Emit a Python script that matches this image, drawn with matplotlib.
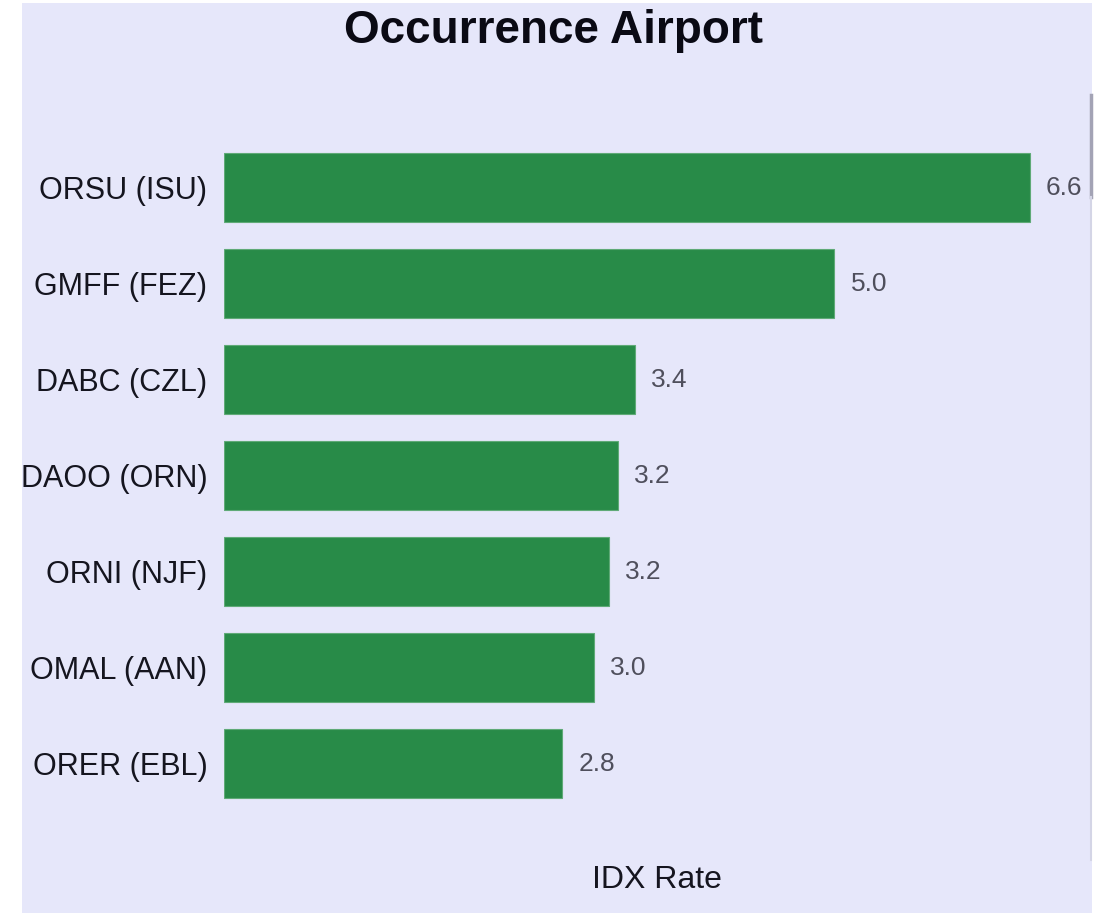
import matplotlib.pyplot as plt
from matplotlib.patches import Rectangle
from matplotlib.lines import Line2D

# data
airports = ["ORSU (ISU)", "GMFF (FEZ)", "DABC (CZL)", "DAOO (ORN)",
            "ORNI (NJF)", "OMAL (AAN)", "ORER (EBL)"]
idx_rate = [6.6, 5.0, 3.37, 3.23, 3.152, 3.03, 2.77]

plt.rcParams['font.family'] = ['Liberation Sans', 'DejaVu Sans']

W, H = 1098, 913
fig = plt.figure(figsize=(W / 100, H / 100), dpi=100, facecolor='white')

# lavender panel behind everything (white strip on the left like the screenshot)
fig.patches.append(Rectangle((22 / W, 0), (1092 - 22) / W, (H - 3) / H,
                             transform=fig.transFigure, facecolor='#E6E7FA',
                             edgecolor='none', zorder=-10))
# little scrollbar remnant on the right edge
fig.lines.append(Line2D([1091 / W, 1091 / W], [1 - 95 / H, 1 - 197 / H],
                        transform=fig.transFigure, color='#A3A3B5', lw=2.5))
fig.lines.append(Line2D([1091 / W, 1091 / W], [1 - 197 / H, 1 - 860 / H],
                        transform=fig.transFigure, color='#D4D5E6', lw=1.5))

ax = fig.add_axes([224 / W, (H - 811.5) / H, (1090 - 224) / W, 672 / H])
ax.set_facecolor('none')
ax.set_zorder(5)

ypos = list(range(len(airports)))
ax.barh(ypos, idx_rate, height=0.72, color='#288B48',
        edgecolor='#5FAA77', linewidth=0.8)

for y, v in zip(ypos, idx_rate):
    ax.annotate(f"{v:.1f}", (v, y), xytext=(11.5, 0), textcoords='offset points',
                va='center', ha='left', fontsize=19, color='#4F4F5C')

ax.set_xlim(0, 866 / 122.1)
ax.set_ylim(len(airports) - 0.5, -0.5)
ax.set_yticks(ypos)
ax.set_yticklabels(airports, fontsize=22, color='#15151F')
ax.tick_params(axis='y', length=0, pad=12)
ax.set_xticks([])
for s in ax.spines.values():
    s.set_visible(False)

fig.text(657 / W, 1 - 880 / H, "IDX Rate", ha='center', va='center',
         fontsize=23, color='#15151F')
fig.text(553 / W, 1 - 31 / H, "Occurrence Airport", ha='center', va='center',
         fontsize=33, fontweight='bold', color='#0A0A14')

fig.savefig("out.png", dpi=100, facecolor='white')
